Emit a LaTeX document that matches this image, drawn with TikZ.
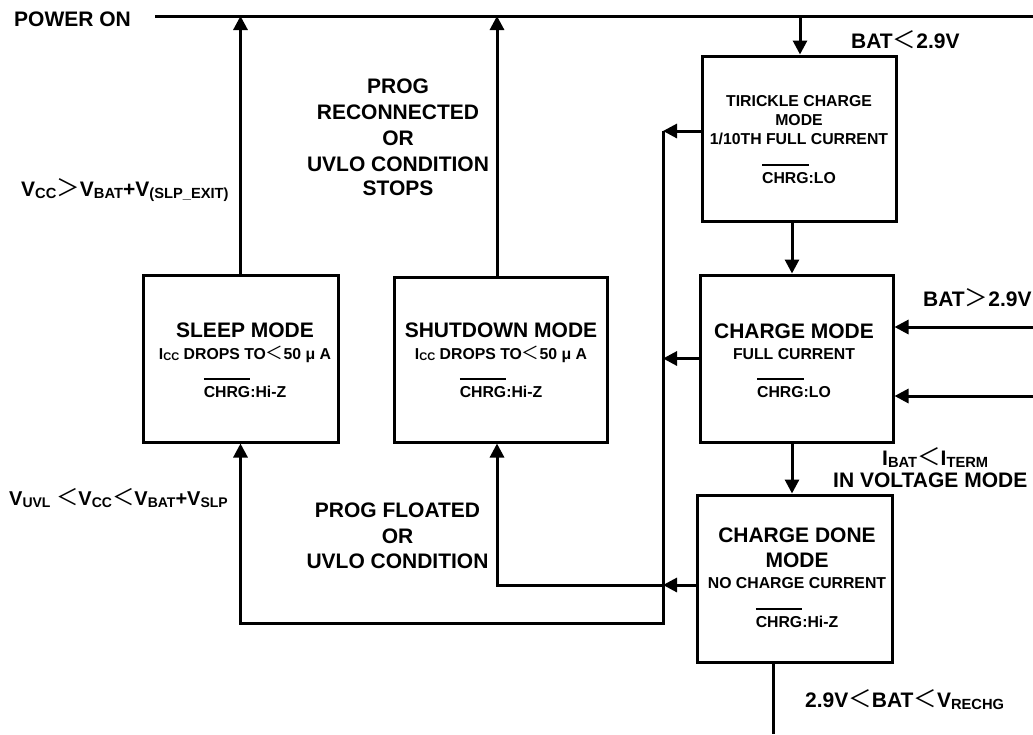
\documentclass[tikz,border=0pt]{standalone}
\usepackage{fontspec}
\setmainfont{Liberation Sans}
\newfontfamily\cjk[Scale=1.12]{Noto Sans CJK SC}
\usetikzlibrary{arrows.meta}
\newcommand\LTs{{\cjk\mdseries ＜}}
\newcommand\GTs{{\cjk\mdseries ＞}}
\makeatletter
\newcommand\sbs[1]{\raisebox{-0.1em}{\fontsize{\fpeval{0.7*\f@size}}{\fpeval{0.7*\f@size}}\selectfont #1}}
\makeatother
\newsavebox\ovlbox
\newcommand\ovl[1]{\sbox\ovlbox{#1}\rlap{\rule[\dimexpr\ht\ovlbox+6pt\relax]{\wd\ovlbox}{2.4pt}}\usebox\ovlbox}
\tikzset{
  box/.style={draw, line width=3pt, inner sep=0pt},
  wire/.style={line width=3pt},
  arr/.style={wire, -{Triangle[length=14pt,width=14pt]}},
  lbl/.style={font=\fontsize{21}{25}\selectfont\bfseries, inner sep=0pt},
  ttl/.style={font=\fontsize{21}{25}\selectfont\bfseries, inner sep=0pt, anchor=base},
  sml/.style={font=\fontsize{15.8}{19}\selectfont\bfseries, inner sep=0pt, anchor=base},
}
\begin{document}
\begin{tikzpicture}[x=1pt,y=-1pt]
\useasboundingbox (0,0) rectangle (1033,734);
% boxes
\node[box, minimum width=195, minimum height=167] (sleep) at (240.5,358.5) {};
\node[box, minimum width=213, minimum height=165] (shut) at (500.5,359.5) {};
\node[box, minimum width=194, minimum height=165] (trick) at (799,138.5) {};
\node[box, minimum width=193, minimum height=167] (charge) at (796.5,358.5) {};
\node[box, minimum width=195, minimum height=167] (done) at (794.5,578.5) {};
% coordinates
\coordinate (pL) at (155,16);
\coordinate (pR) at (1033,16);
\coordinate (tx) at (800,16);
\coordinate (busT) at (663,131);
\coordinate (busM) at (663,358.5);
\coordinate (busD) at (663,585);
\coordinate (busB) at (663,623);
\coordinate (sleepC) at (240.5,623);
\coordinate (shutC) at (497,585);
\coordinate (in1) at (1033,327);
\coordinate (in2) at (1033,396);
\coordinate (outB) at (773,734);
% connectors
\draw[wire] (pL) -- (pR);
\draw[arr] (sleep.north) -- (sleep.north |- pL);
\draw[arr] (shut.north -| shutC) -- (shutC |- pL);
\draw[arr] (tx) -- (tx |- trick.north);
\draw[arr] ([xshift=-7pt]trick.south) -- ([xshift=-4.5pt]charge.north);
\draw[arr] ([xshift=-4.5pt]charge.south) -- ([xshift=-2.5pt]done.north);
\draw[wire] ([xshift=-21.5pt]done.south) -- (outB);
\draw[arr] (trick.west |- busT) -- (busT);
\draw[arr] (charge.west) -- (busM);
\draw[arr] (done.west |- busD) -- (busD);
\draw[arr] (busT) -- (busB) -- (sleepC) -- (sleep.south);
\draw[arr] (busD) -- (shutC) -- (shutC |- shut.south);
\draw[arr] (in1) -- (in1 -| charge.east);
\draw[arr] (in2) -- (in2 -| charge.east);
% labels
\node[lbl, anchor=base west] (pwr) at (14,26.7) {POWER ON};
\node[lbl, anchor=base west] (c1) at (21,196) {V\sbs{CC}\GTs V\sbs{BAT}+V\sbs{(SLP\_EXIT)}};
\node[lbl, anchor=base west, font=\fontsize{20}{24}\selectfont\bfseries] (c2) at (9,505) {V\sbs{UVL} \LTs V\sbs{CC}\LTs V\sbs{BAT}+V\sbs{SLP}};
\node[lbl, anchor=base] (r1) at (398,93) {PROG};
\node[lbl, anchor=base] (r2) at (398,119) {RECONNECTED};
\node[lbl, anchor=base] (r3) at (398,145) {OR};
\node[lbl, anchor=base] (r4) at (398,171) {UVLO CONDITION};
\node[lbl, anchor=base] (r5) at (398,195) {STOPS};
\node[lbl, anchor=base] (f1) at (397.5,517) {PROG FLOATED};
\node[lbl, anchor=base] (f2) at (397.5,543) {OR};
\node[lbl, anchor=base] (f3) at (397.5,568) {UVLO CONDITION};
\node[lbl, anchor=base west] (b1) at (851,48) {BAT\LTs 2.9V};
\node[lbl, anchor=base west] (b2) at (923,306) {BAT\GTs 2.9V};
\node[lbl, anchor=base west] (b3) at (882,465) {I\sbs{BAT}\LTs I\sbs{TERM}};
\node[lbl, anchor=base west] (b4) at (833,487) {IN VOLTAGE MODE};
\node[lbl, anchor=base west] (b5) at (805,707) {2.9V\LTs BAT\LTs V\sbs{RECHG}};
% box texts
\node[ttl] (s1) at (245,337) {SLEEP MODE};
\node[sml] (s2) at (245,359) {I\sbs{CC} DROPS TO\LTs 50 μ A};
\node[sml] (s3) at (245,397) {\ovl{CHRG}:Hi-Z};
\node[ttl] (h1) at (501,337) {SHUTDOWN MODE};
\node[sml] (h2) at (501,359) {I\sbs{CC} DROPS TO\LTs 50 μ A};
\node[sml] (h3) at (501,397) {\ovl{CHRG}:Hi-Z};
\node[sml] (t1) at (799,106) {TIRICKLE CHARGE};
\node[sml] (t2) at (799,125) {MODE};
\node[sml] (t3) at (799,144) {1/10TH FULL CURRENT};
\node[sml] (t4) at (799,183) {\ovl{CHRG}:LO};
\node[ttl] (g1) at (794,338) {CHARGE MODE};
\node[sml] (g2) at (794,359) {FULL CURRENT};
\node[sml] (g3) at (794,397) {\ovl{CHRG}:LO};
\node[ttl] (d1) at (797,542) {CHARGE DONE};
\node[ttl] (d2) at (797,567) {MODE};
\node[sml] (d3) at (797,588) {NO CHARGE CURRENT};
\node[sml] (d4) at (797,627) {\ovl{CHRG}:Hi-Z};
\end{tikzpicture}
\end{document}
